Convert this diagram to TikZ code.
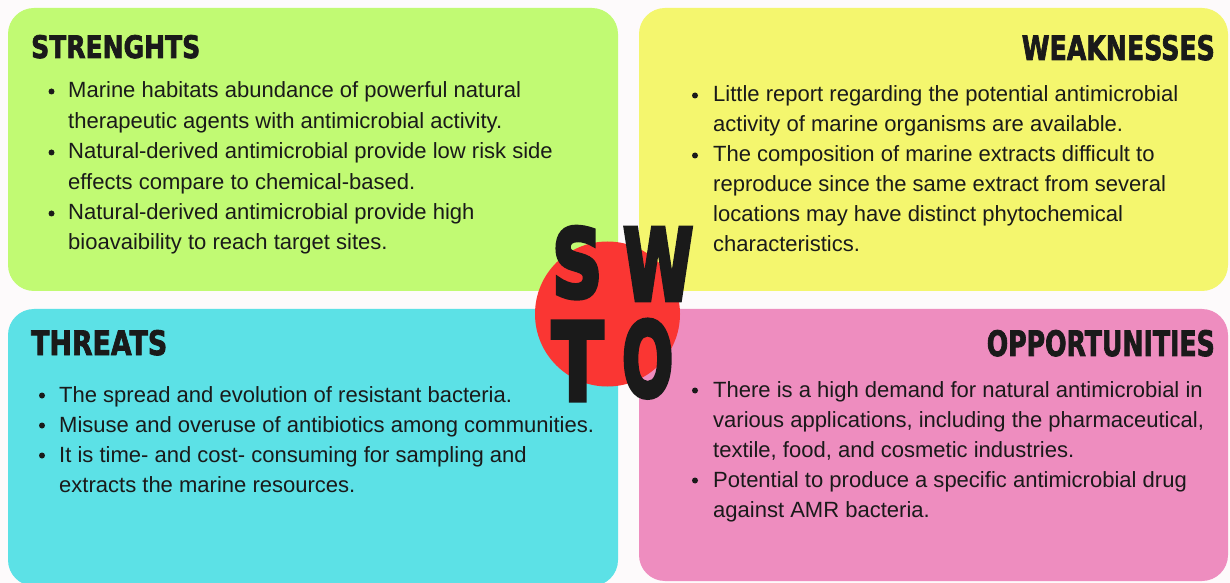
\documentclass[tikz,border=0pt]{standalone}
\usepackage{fontspec}
\usepackage{graphicx}
\setmainfont{Liberation Sans}
\newfontfamily\headfont{DejaVu Sans}[FakeBold=2.5]
\newfontfamily\bigletterfont{DejaVu Sans}[FakeBold=5]

\definecolor{pagebg}{HTML}{FDFAFB}
\definecolor{sgreen}{HTML}{C1FA73}
\definecolor{wyellow}{HTML}{F4F66E}
\definecolor{tcyan}{HTML}{5CE1E6}
\definecolor{opink}{HTML}{EE8DBF}
\definecolor{swotred}{HTML}{FA3633}
\definecolor{ink}{HTML}{1A1A1A}

% heading word stretched to an exact width and cap height (in bp)
\newcommand\fitword[3]{\resizebox{#1bp}{#2bp}{\headfont\bfseries #3}}
\newcommand\fitletter[3]{\resizebox{#1bp}{#2bp}{\bigletterfont\bfseries #3}}

\begin{document}
\begin{tikzpicture}[x=1bp,y=-1bp,
  panel/.style={rounded corners=26bp},
  head/.style={inner sep=0pt, text=ink},
  txt/.style={anchor=base west, inner sep=0pt, text=ink,
    font=\fontsize{22.1}{30}\selectfont},
  dot/.style={fill=ink}]
\useasboundingbox (0,0) rectangle (1230,583);
\fill[pagebg] (0,0) rectangle (1230,583);

% four quadrants
\fill[panel, sgreen]  (8,8)    rectangle (618,291);
\fill[panel, wyellow] (639,8)  rectangle (1228,291);
\fill[panel, tcyan]   (8,309)  rectangle (618,586);
\fill[panel, opink]   (639,309) rectangle (1228,581);

% central disc with the four letters
\fill[swotred] (607.5,314) circle (72.5);
\node[head, anchor=base west] (lS) at (552,297) {\fitletter{50}{70}{S}};
\node[head, anchor=base west] (lW) at (623,300) {\fitletter{70}{72}{W}};
\node[head, anchor=base west] (lT) at (552,400) {\fitletter{51}{78}{T}};
\node[head, anchor=base west] (lO) at (622,396) {\fitletter{51}{76}{O}};

% headings
\node[head, anchor=base west] (hS) at (31,58)   {\fitword{169}{23}{STRENGHTS}};
\node[head, anchor=base east] (hW) at (1215,60) {\fitword{193}{25}{WEAKNESSES}};
\node[head, anchor=base west] (hT) at (31,355)  {\fitword{136}{25}{THREATS}};
\node[head, anchor=base east] (hO) at (1215,356) {\fitword{228}{26}{OPPORTUNITIES}};

% strengths
\fill[dot] (51.5,91.5) circle (3);
\fill[dot] (51.5,152.5) circle (3);
\fill[dot] (51.5,213.5) circle (3);
\node[txt] (s1) at (68,98)    {Marine habitats abundance of powerful natural};
\node[txt] (s2) at (68,128.4) {therapeutic agents with antimicrobial activity.};
\node[txt] (s3) at (68,158.8) {Natural-derived antimicrobial provide low risk side};
\node[txt] (s4) at (68,189.2) {effects compare to chemical-based.};
\node[txt] (s5) at (68,219.6) {Natural-derived antimicrobial provide high};
\node[txt] (s6) at (68,250)   {bioavaibility to reach target sites.};

% weaknesses
\fill[dot] (695,95.5) circle (3);
\fill[dot] (695,155.5) circle (3);
\node[txt] (w1) at (713,102) {Little report regarding the potential antimicrobial};
\node[txt] (w2) at (713,132) {activity of marine organisms are available.};
\node[txt] (w3) at (713,162) {The composition of marine extracts difficult to};
\node[txt] (w4) at (713,192) {reproduce since the same extract from several};
\node[txt] (w5) at (713,222) {locations may have distinct phytochemical};
\node[txt] (w6) at (713,252) {characteristics.};

% threats
\fill[dot] (42,395.5) circle (3);
\fill[dot] (42,425.5) circle (3);
\fill[dot] (42,455.5) circle (3);
\node[txt] (t1) at (59,402) {The spread and evolution of resistant bacteria.};
\node[txt] (t2) at (59,432) {Misuse and overuse of antibiotics among communities.};
\node[txt] (t3) at (59,462) {It is time- and cost- consuming for sampling and};
\node[txt] (t4) at (59,492) {extracts the marine resources.};

% opportunities
\fill[dot] (695,390.5) circle (3);
\fill[dot] (695,480.5) circle (3);
\node[txt] (o1) at (713,397) {There is a high demand for natural antimicrobial in};
\node[txt] (o2) at (713,427) {various applications, including the pharmaceutical,};
\node[txt] (o3) at (713,457) {textile, food, and cosmetic industries.};
\node[txt] (o4) at (713,487) {Potential to produce a specific antimicrobial drug};
\node[txt] (o5) at (713,517) {against AMR bacteria.};
\end{tikzpicture}
\end{document}
